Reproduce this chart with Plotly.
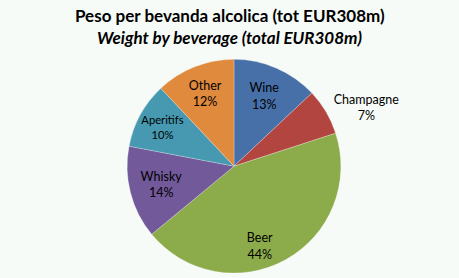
import plotly.graph_objects as go

categories = ["Wine", "Champagne", "Beer", "Whisky", "Aperitifs", "Other"]
values = [13, 7, 44, 14, 10, 12]
colors = ["#4770A8", "#B2453F", "#8CAB4A", "#72599A", "#4699B0", "#E08A3E"]
title_it = "Peso per bevanda alcolica (tot EUR308m)"
title_en = "Weight by beverage (total EUR308m)"

NB = "\u00a0<br>"
base_tpl = "%{label}<br>%{percent:.0%}"
templates = [base_tpl, base_tpl, NB * 4 + base_tpl, base_tpl, base_tpl, base_tpl]

W, H = 459, 278
FONT = "Lato, Open Sans, sans-serif"
fig = go.Figure(go.Pie(
    labels=categories,
    values=values,
    sort=False,
    direction="clockwise",
    rotation=0,
    marker=dict(colors=colors, line=dict(color="rgba(255,255,255,0.5)", width=0.5)),
    texttemplate=templates,
    textposition=["inside", "outside", "inside", "inside", "inside", "inside"],
    insidetextorientation="horizontal",
    textfont=dict(family=FONT, size=[12.5, 12.5, 12.5, 12.5, 11.3, 12.5], color="#000000"),
    showlegend=False,
    hoverinfo="label+percent",
    domain=dict(x=[126 / W, 342 / W], y=[1 - 276 / H, 1 - 60 / H]),
))

fig.update_layout(
    width=W, height=H,
    margin=dict(l=0, r=0, t=0, b=0),
    paper_bgcolor="#F6FBF8",
    plot_bgcolor="#F6FBF8",
    annotations=[
        dict(text="<b>" + title_it + "</b>", x=0.5, y=1 - 16 / H, xref="paper", yref="paper",
             showarrow=False, font=dict(family=FONT, size=17, color="#000000"),
             xanchor="center", yanchor="middle"),
        dict(text="<b><i>" + title_en + "</i></b>", x=0.5, y=1 - 38 / H, xref="paper", yref="paper",
             showarrow=False, font=dict(family=FONT, size=17, color="#000000"),
             xanchor="center", yanchor="middle"),
    ],
)

fig.write_html("out.html")
